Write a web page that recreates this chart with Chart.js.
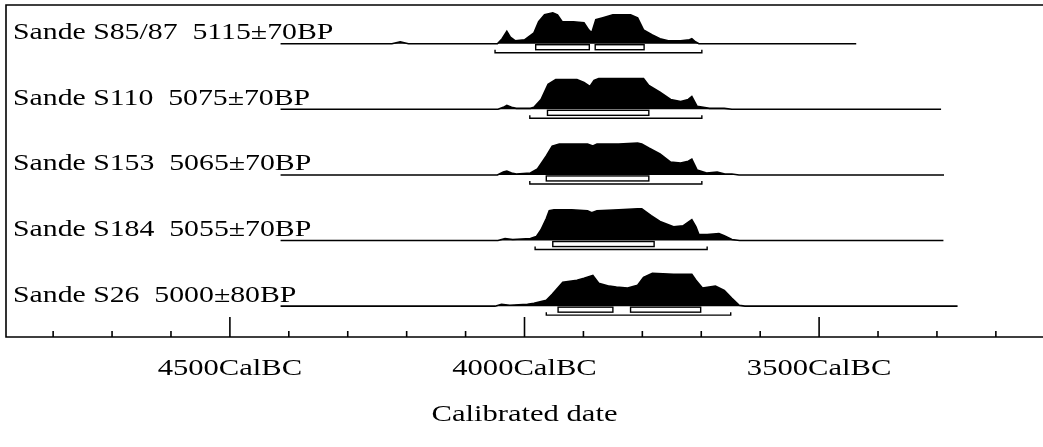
<!DOCTYPE html>
<html>
<head>
<meta charset="utf-8">
<script src="https://cdn.jsdelivr.net/npm/chart.js@4/dist/chart.umd.min.js"></script>
<style>
  html, body { margin: 0; padding: 0; background: #fff; }
  canvas { display: block; }
</style>
</head>
<body>
<canvas id="c" width="1043" height="447"></canvas>
<script>
// ---- Data (calendar years BC, relative probability in % of max) ----
const sampleNames = ["Sande S85/87", "Sande S110", "Sande S153", "Sande S184", "Sande S26"];
const bpDates = ["5115±70BP", "5075±70BP", "5065±70BP", "5055±70BP", "5000±80BP"];

const years1 = [4414,4225,4211,4197,4046,4038,4030,4024,4016,4000,3984,3976,3966,3952,3944,3936,3917,3899,3891,3886,3879,3867,3850,3820,3808,3798,3783,3770,3756,3735,3720,3716,3710,3704,3437];
const prob1  = [0,0,6,0,0,15,38,20,9,12,33,67,88,94,88,67,67,64,42,33,73,79,88,88,79,42,27,15,9,9,12,15,6,0,0];

const years2 = [4414,4045,4036,4030,4022,4014,3990,3984,3972,3960,3947,3925,3911,3899,3889,3882,3874,3840,3808,3798,3789,3770,3752,3735,3722,3716,3707,3686,3661,3648,3293];
const prob2  = [0,0,6,12,6,3,3,6,30,76,91,91,91,82,70,88,94,94,94,94,73,52,30,24,30,39,9,3,3,0,0];

const years3 = [4414,4046,4036,4030,4022,4014,3990,3978,3963,3953,3941,3915,3893,3884,3877,3840,3808,3801,3789,3770,3752,3735,3722,3716,3707,3691,3673,3660,3648,3636,3288];
const prob3  = [0,0,9,12,6,3,6,18,58,88,94,94,94,88,94,94,97,94,82,64,39,36,42,48,15,6,9,3,3,0,0];

const years4 = [4414,4045,4033,4020,3990,3980,3972,3963,3958,3950,3920,3893,3886,3877,3840,3808,3801,3785,3770,3747,3731,3716,3709,3704,3690,3670,3661,3648,3635,3289];
const prob4  = [0,0,6,3,6,12,33,67,91,94,94,91,85,91,94,97,97,76,58,42,45,64,42,18,18,21,15,3,0,0];

const years5 = [4414,4050,4039,4025,3995,3984,3963,3953,3935,3911,3899,3884,3874,3856,3844,3825,3808,3798,3783,3747,3716,3709,3698,3676,3661,3648,3636,3626,3265];
const prob5  = [0,0,6,3,6,9,18,36,73,79,85,94,70,61,58,55,64,88,100,97,97,79,55,61,48,24,3,0,0];

// 68.2% (1 sigma) and 95.4% (2 sigma) ranges, years BC
const sigma1 = [[[3981,3890],[3880,3797]], [[3961,3789]], [[3963,3789]], [[3952,3780]], [[3943,3850],[3820,3701]]];
const sigma2 = [[[4050,3699]], [[3991,3699]], [[3991,3699]], [[3982,3690]], [[3963,3650]]];

const tickStep = 100;      // minor tick spacing (years)
const majorStep = 500;     // labelled tick spacing (years)
const xMinYear = 3120, xMaxYear = 4880;

const allYears = [years1, years2, years3, years4, years5];
const allProb  = [prob1, prob2, prob3, prob4, prob5];

// ---- styling constants ----
const ROWS = sampleNames.length;
const BASE_OFFSET = 0.47;   // baseline position inside each row
const PEAK_HEIGHT = 0.5;    // row fraction used by 100% probability
const SERIF = '"Liberation Serif", "Times New Roman", serif';

function rowBase(i) { return (ROWS - 1 - i) + BASE_OFFSET; }

const datasets = allYears.map((yrs, i) => {
  const base = rowBase(i);
  return {
    label: sampleNames[i],
    data: yrs.map((y, k) => ({ x: y, y: base + allProb[i][k] / 100 * PEAK_HEIGHT })),
    fill: { value: base },
    backgroundColor: '#000',
    borderColor: '#000',
    borderWidth: 1.6,
    pointRadius: 0,
    tension: 0
  };
});

function stretchedText(ctx, text, x, y, sx, align) {
  ctx.save();
  ctx.translate(x, y);
  ctx.scale(sx, 1);
  ctx.textAlign = align;
  ctx.textBaseline = 'alphabetic';
  ctx.fillText(text, 0, 0);
  ctx.restore();
}

const decorPlugin = {
  id: 'decor',
  afterDatasetsDraw(chart) {
    const { ctx, chartArea: a, scales: { x, y } } = chart;
    ctx.save();
    ctx.strokeStyle = '#000';
    ctx.fillStyle = '#000';
    ctx.lineWidth = 1.6;
    ctx.lineCap = 'butt';

    // frame: left, top, bottom axis
    ctx.beginPath();
    ctx.moveTo(a.right, a.top); ctx.lineTo(a.left, a.top);
    ctx.lineTo(a.left, a.bottom); ctx.lineTo(a.right, a.bottom);
    ctx.stroke();

    // ticks (drawn upward from the axis)
    ctx.font = '23px ' + SERIF;
    x.ticks.forEach(t => {
      const v = t.value;
      if (v % tickStep !== 0) return;
      const px = x.getPixelForValue(v);
      const major = v % majorStep === 0;
      ctx.beginPath();
      ctx.moveTo(px, a.bottom);
      ctx.lineTo(px, a.bottom - (major ? 20 : 6));
      ctx.stroke();
      if (major) stretchedText(ctx, v + 'CalBC', px, a.bottom + 38, 1.33, 'center');
    });

    // axis title
    stretchedText(ctx, 'Calibrated date', (a.left + a.right) / 2, a.bottom + 84, 1.33, 'center');

    // rows: labels and sigma brackets
    for (let i = 0; i < ROWS; i++) {
      const by = y.getPixelForValue(rowBase(i));
      ctx.font = '24px ' + SERIF;
      stretchedText(ctx, sampleNames[i] + '  ' + bpDates[i], a.left + 7, by - 4.5, 1.24, 'left');

      ctx.lineWidth = 1.4;
      sigma1[i].forEach(r => {
        const x1 = x.getPixelForValue(r[0]), x2 = x.getPixelForValue(r[1]);
        ctx.fillStyle = '#fff';
        ctx.fillRect(x1, by + 1, x2 - x1, 5);
        ctx.strokeRect(x1, by + 1, x2 - x1, 5);
      });
      sigma2[i].forEach(r => {
        const x1 = x.getPixelForValue(r[0]), x2 = x.getPixelForValue(r[1]);
        const ly = by + 9;
        ctx.beginPath();
        ctx.moveTo(x1, ly - 3); ctx.lineTo(x1, ly);
        ctx.lineTo(x2, ly); ctx.lineTo(x2, ly - 3);
        ctx.stroke();
      });
      ctx.fillStyle = '#000';
    }
    ctx.restore();
  }
};

new Chart(document.getElementById('c'), {
  type: 'line',
  data: { datasets },
  options: {
    responsive: false,
    animation: false,
    layout: { padding: { left: 6, top: 5, right: 0, bottom: 110 } },
    plugins: { legend: { display: false }, tooltip: { enabled: false } },
    scales: {
      x: {
        type: 'linear', min: xMinYear, max: xMaxYear, reverse: true, display: false,
        ticks: { stepSize: tickStep, includeBounds: false }
      },
      y: { type: 'linear', min: 0, max: ROWS + 0.06, display: false }
    }
  },
  plugins: [decorPlugin]
});
</script>
</body>
</html>
